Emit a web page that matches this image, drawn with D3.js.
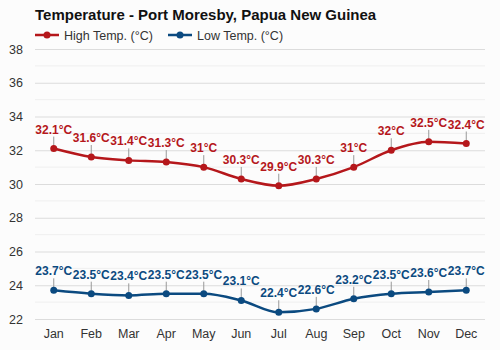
<!DOCTYPE html>
<html>
<head>
<meta charset="utf-8">
<script src="https://cdn.jsdelivr.net/npm/d3@7"></script>
<style>
  html, body { margin: 0; padding: 0; background: #fcfcfc; }
  svg { display: block; font-family: "Liberation Sans", Arial, sans-serif; }
</style>
</head>
<body>
<svg id="chart" width="500" height="350"></svg>
<script>
const months = ["Jan","Feb","Mar","Apr","May","Jun","Jul","Aug","Sep","Oct","Nov","Dec"];
const highTemps = [32.1, 31.6, 31.4, 31.3, 31, 30.3, 29.9, 30.3, 31, 32, 32.5, 32.4];
const lowTemps  = [23.7, 23.5, 23.4, 23.5, 23.5, 23.1, 22.4, 22.6, 23.2, 23.5, 23.6, 23.7];
const yTicks = [22, 24, 26, 28, 30, 32, 34, 36, 38];
const seriesNames = ["High Temp. (°C)", "Low Temp. (°C)"];

const highColor = "#b5171b";
const lowColor = "#0b4a80";

const svg = d3.select("#chart");
svg.append("rect").attr("width", 500).attr("height", 350).attr("fill", "#fcfcfc");

const margin = { left: 35, right: 15, top: 49, bottom: 31 };
const x = d3.scaleBand().domain(months).range([margin.left, 500 - margin.right]);
const y = d3.scaleLinear().domain([22, 38]).range([319, 49]);

// minor gridlines at odd degrees
const minor = d3.range(23, 38, 2);
svg.append("g").selectAll("line").data(minor).join("line")
  .attr("x1", margin.left).attr("x2", 500 - margin.right)
  .attr("y1", d => y(d)).attr("y2", d => y(d))
  .attr("stroke", "#efefef").attr("stroke-width", 1);

// major gridlines + labels
const yAxis = d3.axisLeft(y).tickValues(yTicks).tickSize(-(500 - margin.left - margin.right)).tickPadding(12);
const gy = svg.append("g").attr("transform", `translate(${margin.left},0)`).call(yAxis);
gy.select(".domain").remove();
gy.selectAll(".tick line").attr("stroke", "#dcdcdc");
gy.selectAll(".tick text").attr("fill", "#333").attr("font-size", 12.5)
  .attr("font-family", "Liberation Sans, Arial, sans-serif");

const xAxis = d3.axisBottom(x).tickSize(0).tickPadding(10);
const gx = svg.append("g").attr("transform", `translate(0,319)`).call(xAxis);
gx.select(".domain").remove();
gx.selectAll(".tick text").attr("fill", "#333").attr("font-size", 12.5)
  .attr("font-family", "Liberation Sans, Arial, sans-serif");

const cx = m => x(m) + x.bandwidth() / 2;

function drawSeries(values, color) {
  const data = months.map((m, i) => ({ m, v: values[i] }));
  const line = d3.line().x(d => cx(d.m)).y(d => y(d.v)).curve(d3.curveMonotoneX);
  const g = svg.append("g");
  g.selectAll("line.lead").data(data).join("line")
    .attr("class", "lead")
    .attr("x1", d => cx(d.m)).attr("x2", d => cx(d.m))
    .attr("y1", d => y(d.v) - 3).attr("y2", d => y(d.v) - 12)
    .attr("stroke", "#999").attr("stroke-width", 1);
  g.append("path").datum(data).attr("d", line)
    .attr("fill", "none").attr("stroke", color).attr("stroke-width", 2.5);
  g.selectAll("circle").data(data).join("circle")
    .attr("cx", d => cx(d.m)).attr("cy", d => y(d.v)).attr("r", 3.5)
    .attr("fill", color);
  g.selectAll("text").data(data).join("text")
    .attr("x", d => cx(d.m)).attr("y", d => y(d.v) - 15)
    .attr("text-anchor", "middle")
    .attr("font-size", 12).attr("font-weight", "bold")
    .attr("fill", color)
    .text(d => `${d.v}°C`);
}
drawSeries(highTemps, highColor);
drawSeries(lowTemps, lowColor);

// title
svg.append("text").attr("x", 35).attr("y", 20)
  .attr("font-size", 15).attr("font-weight", "bold").attr("fill", "#111")
  .text("Temperature - Port Moresby, Papua New Guinea");

// legend
const legend = [
  { name: seriesNames[0], color: highColor, x: 35 },
  { name: seriesNames[1], color: lowColor, x: 168 }
];
const lg = svg.append("g").selectAll("g").data(legend).join("g")
  .attr("transform", d => `translate(${d.x},35)`);
lg.append("line").attr("x1", 0).attr("x2", 24).attr("y1", 0).attr("y2", 0)
  .attr("stroke", d => d.color).attr("stroke-width", 2.5);
lg.append("circle").attr("cx", 12).attr("cy", 0).attr("r", 3.5).attr("fill", d => d.color);
lg.append("text").attr("x", 29).attr("y", 4.5).attr("font-size", 12.5).attr("fill", "#333")
  .text(d => d.name);
</script>
</body>
</html>
